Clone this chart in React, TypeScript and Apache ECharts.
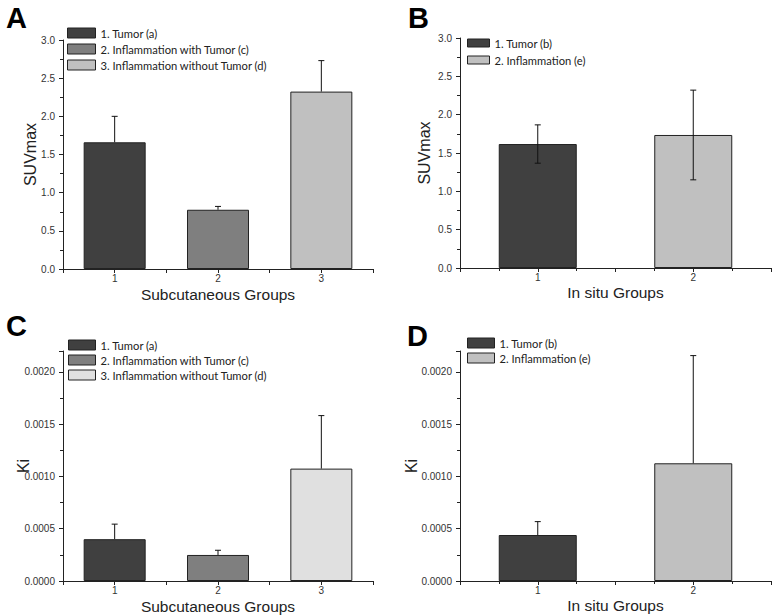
import React, { useEffect, useRef } from "react";
import * as echarts from "echarts";

// ---------- data ----------
const subGroups = [1, 2, 3];
const situGroups = [1, 2];

const subNames = ["1. Tumor (a)", "2. Inflammation with Tumor (c)", "3. Inflammation without Tumor (d)"];
const situNames = ["1. Tumor (b)", "2. Inflammation (e)"];

const suvSubMeans = [1.66, 0.776, 2.324];
const suvSubErr = [0.34, 0.044, 0.406];

const suvSituMeans = [1.617, 1.735];
const suvSituErr = [0.25, 0.585];

const kiSubMeans = [0.0004, 0.000249, 0.001075];
const kiSubErr = [0.000144, 0.000045, 0.000507];

const kiSituMeans = [0.00044, 0.001126];
const kiSituErr = [0.000128, 0.00103];

const suvTicks = { min: 0, max: 3, interval: 0.5 };
const kiTicks = { min: 0, max: 0.0022, interval: 0.0005 };

// ---------- styles ----------
const colA = ["#404040", "#7f7f7f", "#c0c0c0"];
const colC = ["#404040", "#7f7f7f", "#e0e0e0"];
const colB = ["#404040", "#c0c0c0"];
const BORDER = "#222";
const AXIS = "#222";
const SANS = "'Liberation Sans', Arial, sans-serif";
const LEG = "Lato, 'Open Sans', sans-serif";

function App() {
  const ref = useRef<HTMLDivElement>(null);

  useEffect(() => {
    if (!ref.current) return;
    const chart = echarts.init(ref.current, null, { renderer: "svg" });

    const grids = [
      { left: 63, top: 40, width: 310, height: 229 },
      { left: 460, top: 38, width: 311, height: 230 },
      { left: 63, top: 351, width: 310, height: 230 },
      { left: 460, top: 351, width: 311, height: 230 },
    ];

    const xAxisBase = (n: number, name: string, gap: number, minorSplit: number) => ({
      type: "value",
      min: 0.5,
      max: n + 0.5,
      interval: 0.5,
      name,
      nameLocation: "middle",
      nameGap: gap,
      nameMoveOverlap: false,
      nameTextStyle: { fontSize: 15.5, color: "#222", fontFamily: SANS, lineHeight: 12 },
      axisLine: { show: true, lineStyle: { color: AXIS, width: 1 } },
      axisTick: { show: true, length: 4, lineStyle: { color: AXIS } },
      minorTick: { show: minorSplit > 1, splitNumber: minorSplit, length: 3, lineStyle: { color: AXIS } },
      splitLine: { show: false },
      minorSplitLine: { show: false },
      axisLabel: {
        fontSize: 10,
        lineHeight: 9,
        color: "#333",
        fontFamily: SANS,
        margin: 5,
        formatter: (v: number) => (Math.abs(v - Math.round(v)) < 1e-6 ? String(Math.round(v)) : ""),
      },
    });

    const yAxisBase = (t: any, name: string, gap: number, dec: number) => ({
      type: "value",
      min: t.min,
      max: t.max,
      interval: t.interval,
      name,
      nameLocation: "middle",
      nameGap: gap,
      nameMoveOverlap: false,
      nameTextStyle: { fontSize: 16, color: "#222", fontFamily: SANS },
      axisLine: { show: true, lineStyle: { color: AXIS, width: 1 } },
      axisTick: { show: true, length: 4, lineStyle: { color: AXIS } },
      minorTick: { show: true, splitNumber: 2, length: 3, lineStyle: { color: AXIS } },
      splitLine: { show: false },
      minorSplitLine: { show: false },
      axisLabel: {
        fontSize: 10,
        color: "#333",
        fontFamily: SANS,
        margin: 8,
        formatter: (v: number) => {
          const k = v / t.interval;
          if (Math.abs(k - Math.round(k)) > 1e-6) return "";
          return v.toFixed(dec);
        },
      },
    });

    const barSeries = (names: string[], groups: number[], means: number[], cols: string[], idx: number, bw: number) =>
      names.map((nm, i) => ({
        type: "bar",
        name: nm,
        xAxisIndex: idx,
        yAxisIndex: idx,
        barWidth: bw,
        barGap: "-100%",
        data: [[groups[i], means[i]]],
        itemStyle: { color: cols[i], borderColor: BORDER, borderWidth: 1 },
        z: 2,
      }));

    const errSeries = (groups: number[], means: number[], errs: number[], idx: number, twoSided: boolean) => ({
      type: "custom",
      xAxisIndex: idx,
      yAxisIndex: idx,
      z: 5,
      data: groups.map((g, i) => [g, means[i], errs[i], twoSided ? errs[i] : 0]),
      renderItem: (params: any, api: any) => {
        const x = api.value(0);
        const y = api.value(1);
        const up = api.value(2);
        const dn = api.value(3);
        const top = api.coord([x, y + up]);
        const bot = api.coord([x, y - dn]);
        const cap = 3;
        const style = { stroke: "#111", lineWidth: 1 };
        const children: any[] = [
          { type: "line", shape: { x1: top[0], y1: top[1], x2: bot[0], y2: bot[1] }, style },
          { type: "line", shape: { x1: top[0] - cap, y1: top[1], x2: top[0] + cap, y2: top[1] }, style },
        ];
        if (dn > 0) {
          children.push({ type: "line", shape: { x1: bot[0] - cap, y1: bot[1], x2: bot[0] + cap, y2: bot[1] }, style });
        }
        return { type: "group", children };
      },
    });

    const legend = (names: string[], cols: string[], left: number, top: number, w: number, h: number, gap: number) => ({
      orient: "vertical",
      left,
      top,
      padding: 0,
      itemWidth: w,
      itemHeight: h,
      itemGap: gap,
      icon: "rect",
      selectedMode: false,
      textStyle: { fontSize: 11.2, color: "#222", fontFamily: LEG, lineHeight: 12 },
      data: names.map((n, i) => ({
        name: n,
        icon: "rect",
        itemStyle: { color: cols[i], borderColor: BORDER, borderWidth: 1 },
      })),
    });

    const letter = (t: string, x: number, y: number) => ({
      type: "text",
      left: x,
      top: y,
      style: { text: t, fontSize: 29, fontWeight: "bold", fill: "#000", fontFamily: SANS },
    });

    const option: any = {
      animation: false,
      backgroundColor: "#fff",
      grid: grids,
      xAxis: [
        xAxisBase(3, "Subcutaneous Groups", 19, 1),
        xAxisBase(2, "In situ Groups", 18, 2),
        xAxisBase(3, "Subcutaneous Groups", 19, 1),
        xAxisBase(2, "In situ Groups", 18, 2),
      ].map((a, i) => ({ ...a, gridIndex: i })),
      yAxis: [
        yAxisBase(suvTicks, "SUVmax", 25, 1),
        yAxisBase(suvTicks, "SUVmax", 28, 1),
        yAxisBase(kiTicks, "Ki", 32, 4),
        yAxisBase(kiTicks, "Ki", 41, 4),
      ].map((a, i) => ({ ...a, gridIndex: i })),
      legend: [
        legend(subNames, colA, 67, 27, 28, 10, 4),
        legend(situNames, colB, 467, 37, 22, 8, 5),
        legend(subNames, colC, 68, 339, 27, 10, 3),
        legend(situNames, colB, 467, 337, 27, 10, 3),
      ],
      series: [
        ...barSeries(subNames, subGroups, suvSubMeans, colA, 0, 62),
        errSeries(subGroups, suvSubMeans, suvSubErr, 0, false),
        ...barSeries(situNames, situGroups, suvSituMeans, colB, 1, 78),
        errSeries(situGroups, suvSituMeans, suvSituErr, 1, true),
        ...barSeries(subNames, subGroups, kiSubMeans, colC, 2, 62),
        errSeries(subGroups, kiSubMeans, kiSubErr, 2, false),
        ...barSeries(situNames, situGroups, kiSituMeans, colB, 3, 78),
        errSeries(situGroups, kiSituMeans, kiSituErr, 3, false),
      ],
      graphic: [letter("A", 6, 3), letter("B", 408, 3), letter("C", 6, 311), letter("D", 407, 321)],
    };

    chart.setOption(option);
    return () => chart.dispose();
  }, []);

  return <div ref={ref} style={{ position: "absolute", left: 0, top: 0, width: 778, height: 615 }} />;
}

export default App;
